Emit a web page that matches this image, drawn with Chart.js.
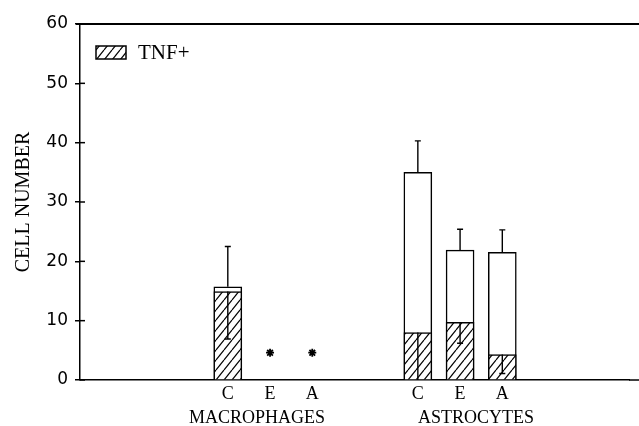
<!DOCTYPE html>
<html>
<head>
<meta charset="utf-8">
<script src="https://cdn.jsdelivr.net/npm/chart.js@4.4.1/dist/chart.umd.min.js"></script>
<style>
  html, body { margin: 0; padding: 0; background: #fff; }
  #wrap { width: 639px; height: 426px; position: relative; }
</style>
</head>
<body>
<div id="wrap"><canvas id="chart"></canvas></div>
<script>
// values (cell number, mean + error)
var categories = ["C", "E", "A", "C", "E", "A"];
var groups = ["MACROPHAGES", "ASTROCYTES"];
var totalCells = [15.7, null, null, 35.0, 21.9, 21.5];
var totalErr = [6.8, null, null, 5.3, 3.5, 3.8];
var tnfCells = [14.9, null, null, 8.0, 9.7, 4.3];
var tnfErr = [8.0, null, null, 8.0, 3.5, 3.2];
var notDetected = [null, 4.6, 4.6, null, null, null];
var yTicks = [0, 10, 20, 30, 40, 50, 60];

// empty category slots used to space the bars out like the figure
var LEAD = 7, GAP = 1, GROUP_GAP = 4, TAIL = 6;
function spread(arr, blank) {
  var out = [];
  var k;
  for (k = 0; k < LEAD; k++) out.push(blank);
  arr.forEach(function (v, i) {
    if (i > 0) {
      var g = i % 3 === 0 ? GROUP_GAP : GAP;
      for (k = 0; k < g; k++) out.push(blank);
    }
    out.push(v);
  });
  for (k = 0; k < TAIL; k++) out.push(blank);
  return out;
}
var slots = [];
spread(categories, null).forEach(function (v, i) { if (v !== null) slots.push(i); });

// "/" hatch
function hatch() {
  var w = 8, h = 10;
  var pc = document.createElement("canvas");
  pc.width = w; pc.height = h;
  var c = pc.getContext("2d");
  c.fillStyle = "#fff";
  c.fillRect(0, 0, w, h);
  c.strokeStyle = "#000";
  c.lineWidth = 1.2;
  [-w, 0, w].forEach(function (dx) {
    c.beginPath();
    c.moveTo(dx, h);
    c.lineTo(dx + w, 0);
    c.stroke();
  });
  return c.createPattern(pc, "repeat");
}

var serif = "'Liberation Serif', 'DejaVu Serif', serif";

var extras = {
  id: "extras",
  afterDatasetsDraw: function (chart) {
    var ctx = chart.ctx, x = chart.scales.x, y = chart.scales.y;
    ctx.save();
    ctx.strokeStyle = "#000";
    ctx.lineWidth = 1.4;
    function bar(px, v0, v1, cap) {
      var y0 = y.getPixelForValue(v0), y1 = y.getPixelForValue(v1);
      ctx.beginPath();
      ctx.moveTo(px, y0);
      ctx.lineTo(px, y1);
      if (cap) {
        ctx.moveTo(px - 3, y1);
        ctx.lineTo(px + 3, y1);
      }
      ctx.stroke();
    }
    slots.forEach(function (s, i) {
      var px = x.getPixelForValue(s);
      if (totalCells[i] !== null) bar(px, totalCells[i], totalCells[i] + totalErr[i], true);
      if (tnfCells[i] !== null) {
        var lo = tnfCells[i] - tnfErr[i];
        bar(px, tnfCells[i], Math.max(lo, 0), lo > 0);
      }
    });
    ctx.restore();
  },
  afterDraw: function (chart) {
    var ctx = chart.ctx, ca = chart.chartArea, x = chart.scales.x, y = chart.scales.y;
    ctx.save();
    ctx.strokeStyle = "#000";
    // top frame line and x axis running to the edge
    ctx.lineWidth = 2;
    ctx.beginPath();
    ctx.moveTo(ca.left - 4, ca.top);
    ctx.lineTo(chart.width, ca.top);
    ctx.stroke();
    ctx.lineWidth = 1.5;
    ctx.beginPath();
    ctx.moveTo(ca.right, ca.bottom);
    ctx.lineTo(chart.width, ca.bottom);
    ctx.stroke();
    // tick marks cross the axis
    yTicks.forEach(function (v) {
      var py = y.getPixelForValue(v);
      ctx.beginPath();
      ctx.moveTo(ca.left, py);
      ctx.lineTo(ca.left + 5, py);
      ctx.stroke();
    });
    // legend key, top left inside the frame
    var ds = chart.data.datasets[0];
    var bx = ca.left + 16, by = ca.top + 22;
    ctx.fillStyle = ds.backgroundColor;
    ctx.fillRect(bx, by, 30, 13);
    ctx.lineWidth = 1.5;
    ctx.strokeRect(bx, by, 30, 13);
    ctx.fillStyle = "#000";
    ctx.font = "21px " + serif;
    ctx.textAlign = "left";
    ctx.textBaseline = "middle";
    ctx.fillText(ds.label, bx + 42, by + 7);
    // group names
    ctx.font = "18px " + serif;
    ctx.textAlign = "center";
    ctx.textBaseline = "alphabetic";
    var shift = [-13, 16];
    groups.forEach(function (g, gi) {
      var px = x.getPixelForValue(slots[gi * 3 + 1]) + shift[gi];
      ctx.fillText(g, px, 423);
    });
    ctx.restore();
  }
};

var ctx = document.getElementById("chart").getContext("2d");
var chart = new Chart(ctx, {
  type: "bar",
  data: {
    labels: spread(categories, ""),
    datasets: [
      {
        label: "TNF+",
        data: spread(tnfCells, null),
        backgroundColor: hatch(),
        borderColor: "#000",
        borderWidth: 1.5,
        borderSkipped: "bottom",
        barThickness: 28,
        grouped: false
      },
      {
        label: "Total",
        data: spread(totalCells, null),
        backgroundColor: "#fff",
        borderColor: "#000",
        borderWidth: 1.5,
        borderSkipped: "bottom",
        barThickness: 28,
        grouped: false
      },
      {
        type: "line",
        label: "n.d.",
        data: spread(notDetected, null),
        showLine: false,
        pointStyle: "star",
        pointRadius: 4,
        borderColor: "#000",
        borderWidth: 1.8,
        backgroundColor: "#000"
      }
    ]
  },
  options: {
    responsive: true,
    maintainAspectRatio: false,
    animation: false,
    layout: { padding: { left: 0, right: 10, top: 24, bottom: 0 } },
    plugins: {
      tooltip: { enabled: false },
      legend: { display: false }
    },
    scales: {
      x: {
        type: "category",
        offset: false,
        grid: { display: false, drawTicks: false },
        border: { display: true, color: "#000", width: 1.5 },
        ticks: {
          autoSkip: false,
          maxRotation: 0,
          padding: 3,
          color: "#000",
          font: { family: serif, size: 18 }
        },
        afterFit: function (scale) { scale.height = 46; }
      },
      y: {
        min: 0,
        max: 60,
        afterBuildTicks: function (scale) {
          scale.ticks = yTicks.map(function (v) { return { value: v }; });
        },
        grid: {
          drawOnChartArea: false,
          drawTicks: true,
          tickLength: 5,
          color: "#000",
          lineWidth: 1.5
        },
        border: { display: true, color: "#000", width: 1.5 },
        ticks: {
          padding: 7,
          color: "#000",
          font: { family: "'DejaVu Sans', sans-serif", size: 17 }
        },
        title: {
          display: true,
          text: "CELL NUMBER",
          color: "#000",
          padding: { top: 12, bottom: 0 },
          font: { family: serif, size: 20 }
        },
        afterFit: function (scale) { scale.width = 80; }
      }
    }
  },
  plugins: [extras]
});
</script>
</body>
</html>
